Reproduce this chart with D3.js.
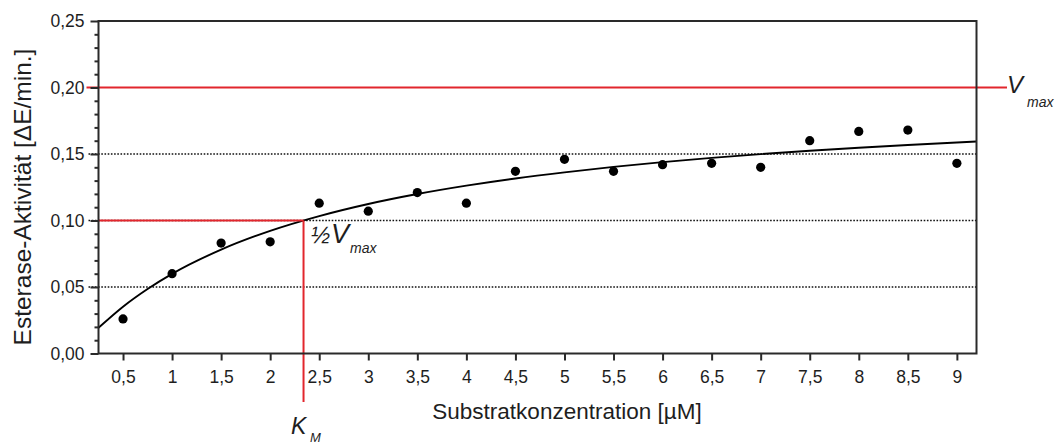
<!DOCTYPE html>
<html>
<head>
<meta charset="utf-8">
<script src="https://cdn.jsdelivr.net/npm/d3@7/dist/d3.min.js"></script>
<style>
  html, body { margin: 0; padding: 0; background: #fff; }
  svg { display: block; }
  text { font-family: "Liberation Sans", Arial, sans-serif; fill: #1e1e1e; }
</style>
</head>
<body>
<svg id="chart" width="1055" height="447"></svg>
<script>
// Substrate concentrations [µM] and measured esterase activity [ΔE/min.]
const concentration = [0.5, 1, 1.5, 2, 2.5, 3, 3.5, 4, 4.5, 5, 5.5, 6, 6.5, 7, 7.5, 8, 8.5, 9];
const activity = [0.026, 0.060, 0.083, 0.084, 0.113, 0.107, 0.121, 0.113, 0.137, 0.146,
                  0.137, 0.142, 0.143, 0.140, 0.160, 0.167, 0.168, 0.143];

// Michaelis–Menten fit curve, sampled along the concentration axis
const fitX = [0.25, 0.5, 0.75, 1, 1.5, 2, 2.5, 3, 3.5, 4, 4.5, 5, 5.5, 6, 6.5, 7, 7.5, 8, 8.5, 9, 9.2];
const fitY = [0.0193, 0.0352, 0.0485, 0.0599, 0.0781, 0.0922, 0.1033, 0.1124, 0.1199, 0.1262,
              0.1316, 0.1362, 0.1403, 0.1439, 0.1471, 0.1499, 0.1524, 0.1547, 0.1568, 0.1587, 0.1594];

// Kinetic constants marked on the chart
const vmax = 0.20;
const halfVmax = 0.10;
const km = 2.34;

// Axis ticks
const xTicks = [0.5, 1, 1.5, 2, 2.5, 3, 3.5, 4, 4.5, 5, 5.5, 6, 6.5, 7, 7.5, 8, 8.5, 9];
const yTicks = [0, 0.05, 0.10, 0.15, 0.20, 0.25];
const yMinorTicks = [0.01, 0.02, 0.03, 0.04, 0.06, 0.07, 0.08, 0.09, 0.11, 0.12, 0.13, 0.14,
                     0.16, 0.17, 0.18, 0.19, 0.21, 0.22, 0.23, 0.24];
const gridValues = [0.05, 0.10, 0.15];

const de = d3.formatLocale({ decimal: ",", thousands: ".", grouping: [3], currency: ["", " €"] });
const fmtY = de.format(".2f");
const fmtX = de.format("~g");

const svg = d3.select("#chart");
const plotL = 98.5, plotR = 976.5, plotT = 21, plotB = 353.5;

const x = d3.scaleLinear().domain([0.25, 9.2]).range([plotL, plotR]);
const y = d3.scaleLinear().domain([0, 0.25]).range([plotB, plotT]);

const RED = "#e2262d";
const AXIS = "#2a2a2a";

// Dotted horizontal grid lines
svg.append("g").selectAll("line").data(gridValues).join("line")
  .attr("x1", plotL - 10).attr("x2", plotR)
  .attr("y1", d => y(d)).attr("y2", d => y(d))
  .attr("stroke", "#111").attr("stroke-width", 1.5)
  .attr("stroke-dasharray", "1.6,1.6");

// Fit curve
const line = d3.line().x((d, i) => x(fitX[i])).y(d => y(d)).curve(d3.curveMonotoneX);
svg.append("path").datum(fitY)
  .attr("d", line)
  .attr("fill", "none").attr("stroke", "#000").attr("stroke-width", 1.9);

// Vmax, ½Vmax and KM guide lines
svg.append("line")
  .attr("x1", plotL - 12).attr("x2", 1007)
  .attr("y1", y(vmax)).attr("y2", y(vmax))
  .attr("stroke", RED).attr("stroke-width", 2);
svg.append("line")
  .attr("x1", plotL).attr("x2", x(km))
  .attr("y1", y(halfVmax)).attr("y2", y(halfVmax))
  .attr("stroke", RED).attr("stroke-width", 2);
svg.append("line")
  .attr("x1", x(km)).attr("x2", x(km))
  .attr("y1", y(halfVmax)).attr("y2", 402)
  .attr("stroke", RED).attr("stroke-width", 2);

// Measured points
svg.append("g").selectAll("circle").data(activity).join("circle")
  .attr("cx", (d, i) => x(concentration[i]))
  .attr("cy", d => y(d))
  .attr("r", 4.6)
  .attr("fill", "#000");

// Frame
svg.append("rect")
  .attr("x", plotL).attr("y", plotT)
  .attr("width", plotR - plotL).attr("height", plotB - plotT)
  .attr("fill", "none").attr("stroke", AXIS).attr("stroke-width", 2);

// Y axis
const yAxis = d3.axisLeft(y).tickValues(yTicks).tickFormat(fmtY).tickSize(8).tickPadding(6);
const gy = svg.append("g").attr("transform", `translate(${plotL},0)`).call(yAxis);
gy.select(".domain").remove();
gy.selectAll(".tick line").attr("stroke", AXIS).attr("stroke-width", 2);
gy.selectAll(".tick text")
  .style("font-family", "Liberation Sans, Arial, sans-serif")
  .style("font-size", "17.5px").attr("fill", "#1e1e1e");

const yMinor = d3.axisLeft(y).tickValues(yMinorTicks).tickFormat("").tickSize(4);
const gym = svg.append("g").attr("transform", `translate(${plotL},0)`).call(yMinor);
gym.select(".domain").remove();
gym.selectAll(".tick line").attr("stroke", AXIS).attr("stroke-width", 2);

// X axis
const xAxis = d3.axisBottom(x).tickValues(xTicks).tickFormat(fmtX).tickSize(7).tickPadding(10);
const gx = svg.append("g").attr("transform", `translate(0,${plotB})`).call(xAxis);
gx.select(".domain").remove();
gx.selectAll(".tick line").attr("stroke", AXIS).attr("stroke-width", 2);
gx.selectAll(".tick text")
  .style("font-family", "Liberation Sans, Arial, sans-serif")
  .style("font-size", "17.5px").attr("fill", "#1e1e1e");

// Axis titles
svg.append("text")
  .attr("x", 567).attr("y", 419)
  .attr("text-anchor", "middle")
  .style("font-size", "22.5px")
  .text("Substratkonzentration [µM]");

svg.append("text")
  .attr("transform", "translate(31,197) rotate(-90)")
  .attr("text-anchor", "middle")
  .style("font-size", "24.5px")
  .text("Esterase-Aktivität [ΔE/min.]");

// Vmax label
const vLab = svg.append("text").attr("x", 1007).attr("y", 93)
  .style("font-style", "italic");
vLab.append("tspan").style("font-size", "24px").text("V");
vLab.append("tspan").attr("x", 1027).attr("y", 107).style("font-size", "14px").text("max");

// ½ Vmax label
const hLab = svg.append("text").attr("x", 311).attr("y", 243)
  .style("font-style", "italic");
hLab.append("tspan").style("font-size", "23px").text("½");
hLab.append("tspan").attr("x", 331).style("font-size", "27px").text("V");
hLab.append("tspan").attr("x", 350).attr("y", 253).style("font-size", "14px").text("max");

// KM label
const kLab = svg.append("text").attr("x", 291).attr("y", 434)
  .style("font-style", "italic");
kLab.append("tspan").style("font-size", "23px").text("K");
kLab.append("tspan").attr("x", 310).attr("y", 442).style("font-size", "13px").text("M");
</script>
</body>
</html>
